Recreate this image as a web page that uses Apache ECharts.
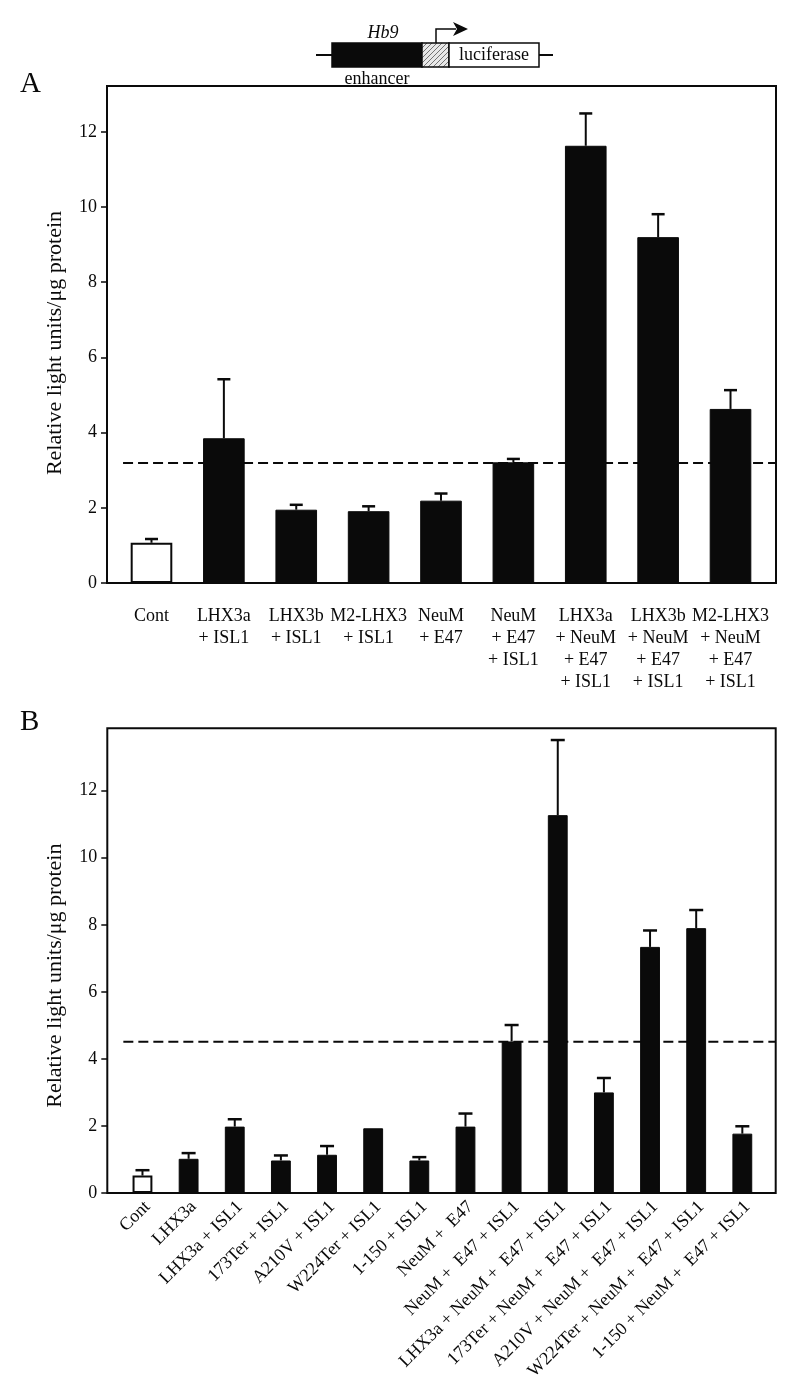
<!DOCTYPE html>
<html><head><meta charset="utf-8">
<script src="https://cdn.jsdelivr.net/npm/echarts@6/dist/echarts.min.js"></script>
<style>html,body{margin:0;padding:0;background:#fff}#c{width:800px;height:1388px}</style>
</head><body><div id="c"></div>
<script>
// ---------- DATA ----------
var catsA = ['Cont', 'LHX3a\n+ ISL1', 'LHX3b\n+ ISL1', 'M2-LHX3\n+ ISL1', 'NeuM\n+ E47',
  'NeuM\n+ E47\n+ ISL1', 'LHX3a\n+ NeuM\n+ E47\n+ ISL1', 'LHX3b\n+ NeuM\n+ E47\n+ ISL1', 'M2-LHX3\n+ NeuM\n+ E47\n+ ISL1'];
var meanA = [1.07, 3.85, 1.95, 1.91, 2.19, 3.21, 11.63, 9.20, 4.63];
var errTopA = [1.17, 5.42, 2.08, 2.04, 2.38, 3.30, 12.49, 9.81, 5.13];
var thresholdA = 3.19;
var yTicksA = [0, 2, 4, 6, 8, 10, 12];
var yMaxA = 13.22;

var catsB = ['Cont', 'LHX3a', 'LHX3a + ISL1', '173Ter + ISL1', 'A210V + ISL1', 'W224Ter + ISL1', '1-150 + ISL1',
  'NeuM +  E47', 'NeuM +  E47 + ISL1', 'LHX3a + NeuM +  E47 + ISL1', '173Ter + NeuM +  E47 + ISL1',
  'A210V + NeuM +  E47 + ISL1', 'W224Ter + NeuM +  E47 + ISL1', '1-150 + NeuM +  E47 + ISL1'];
var meanB = [0.52, 1.02, 1.98, 0.97, 1.14, 1.93, 0.97, 1.98, 4.52, 11.27, 3.00, 7.34, 7.90, 1.77];
var errTopB = [0.68, 1.19, 2.20, 1.12, 1.40, null, 1.07, 2.37, 5.01, 13.51, 3.43, 7.83, 8.44, 1.99];
var thresholdB = 4.51;
var yTicksB = [0, 2, 4, 6, 8, 10, 12];
var yMaxB = 13.86;

// ---------- STYLE / LAYOUT ----------
var FONT = 'Liberation Serif';
var INK = '#0a0a0a';
var DASH_START = 0.024;
var LABEL_SHIFT_B = 5;

var chart = echarts.init(document.getElementById('c'), null, {renderer: 'canvas'});

// hatch pattern for the promoter box
var pc = document.createElement('canvas');
pc.width = 5; pc.height = 5;
var pctx = pc.getContext('2d');
pctx.fillStyle = '#e8e8e8'; pctx.fillRect(0, 0, 5, 5);
pctx.strokeStyle = '#555'; pctx.lineWidth = 0.8;
pctx.beginPath(); pctx.moveTo(0, 5); pctx.lineTo(5, 0); pctx.stroke();
pctx.beginPath(); pctx.moveTo(-1, 1); pctx.lineTo(1, -1); pctx.stroke();
pctx.beginPath(); pctx.moveTo(4, 6); pctx.lineTo(6, 4); pctx.stroke();

function barData(vals) {
  return vals.map(function (v, i) {
    if (i === 0) return {value: v, itemStyle: {color: '#fff', borderColor: INK, borderWidth: 2}};
    return {value: v, itemStyle: {color: INK, borderColor: INK, borderWidth: 1}};
  });
}
function errData(means, tops) {
  var out = [];
  means.forEach(function (m, i) { if (tops[i] != null) out.push([i, m, tops[i]]); });
  return out;
}
function errRender(capHalf) {
  return function (params, api) {
    var b = api.coord([api.value(0), api.value(1)]);
    var t = api.coord([api.value(0), api.value(2)]);
    return {type: 'group', children: [
      {type: 'line', shape: {x1: b[0], y1: b[1], x2: t[0], y2: t[1]}, style: {stroke: INK, lineWidth: 2}},
      {type: 'line', shape: {x1: t[0] - capHalf, y1: t[1], x2: t[0] + capHalf, y2: t[1]}, style: {stroke: INK, lineWidth: 2.5}}
    ]};
  };
}
function frameY(maxV, ticks, gridIndex, namePad) {
  return {
    type: 'value', gridIndex: gridIndex, min: 0, max: maxV,
    name: 'Relative light units/μg protein', nameLocation: 'middle', nameGap: 41,
    nameTextStyle: {fontFamily: FONT, fontSize: 22, color: INK, padding: [0, namePad, 0, 0]},
    axisLine: {show: false},
    axisTick: {show: true, length: 6, inside: false, lineStyle: {color: INK, width: 1.5}, customValues: ticks},
    axisLabel: {fontFamily: FONT, fontSize: 18, color: INK, margin: 10, customValues: ticks},
    splitLine: {show: false}
  };
}
function hiddenY(maxV, gridIndex) {
  return {type: 'value', gridIndex: gridIndex, min: 0, max: maxV, show: false, splitLine: {show: false}};
}
function frameX(gridIndex) {
  return {type: 'value', gridIndex: gridIndex, min: 0, max: 1, show: false, splitLine: {show: false}};
}
var gb = {containLabel: false, outerBoundsMode: 'none'};
function g(o) { return Object.assign({}, gb, o); }

var option = {
  animation: false,
  backgroundColor: '#fff',
  grid: [
    g({left: 107, right: 24, top: 86, bottom: 805, show: true, borderColor: INK, borderWidth: 2, backgroundColor: 'transparent'}),
    g({left: 115.3, right: 33.3, top: 86, bottom: 805}),
    g({left: 107.3, right: 24.3, top: 728.3, bottom: 195, show: true, borderColor: INK, borderWidth: 2, backgroundColor: 'transparent'}),
    g({left: 119.4, right: 34.6, top: 728.3, bottom: 195}),
    g({left: 119.4 + LABEL_SHIFT_B, right: 34.6 - LABEL_SHIFT_B, top: 728.3, bottom: 195})
  ],
  xAxis: [
    frameX(0),
    {type: 'category', gridIndex: 1, data: catsA, boundaryGap: true,
      axisLine: {show: false}, axisTick: {show: false},
      axisLabel: {interval: 0, fontFamily: FONT, fontSize: 18, lineHeight: 22, color: INK, margin: 22, align: 'center'}},
    frameX(2),
    {type: 'category', gridIndex: 3, data: catsB, boundaryGap: true,
      axisLine: {show: false}, axisTick: {show: false}, axisLabel: {show: false}},
    {type: 'category', gridIndex: 4, data: catsB, boundaryGap: true,
      axisLine: {show: false}, axisTick: {show: false},
      axisLabel: {interval: 0, rotate: 45, fontFamily: FONT, fontSize: 18, color: INK, margin: 11}}
  ],
  yAxis: [
    frameY(yMaxA, yTicksA, 0, 17), hiddenY(yMaxA, 1),
    frameY(yMaxB, yTicksB, 2, 30), hiddenY(yMaxB, 3), hiddenY(yMaxB, 4)
  ],
  series: [
    {type: 'line', xAxisIndex: 0, yAxisIndex: 0, z: 1, symbol: 'none', silent: true,
      data: [[DASH_START, thresholdA], [1, thresholdA]],
      lineStyle: {color: INK, width: 2, type: [10, 5]}},
    {type: 'bar', xAxisIndex: 1, yAxisIndex: 1, z: 3, barWidth: '57.5%', data: barData(meanA)},
    {type: 'custom', xAxisIndex: 1, yAxisIndex: 1, z: 2, renderItem: errRender(6.5), data: errData(meanA, errTopA)},
    {type: 'line', xAxisIndex: 2, yAxisIndex: 2, z: 1, symbol: 'none', silent: true,
      data: [[DASH_START, thresholdB], [1, thresholdB]],
      lineStyle: {color: INK, width: 2, type: [10, 5]}},
    {type: 'bar', xAxisIndex: 3, yAxisIndex: 3, z: 3, barWidth: '43%', data: barData(meanB)},
    {type: 'custom', xAxisIndex: 3, yAxisIndex: 3, z: 2, renderItem: errRender(7), data: errData(meanB, errTopB)}
  ],
  graphic: [
    {type: 'text', left: 20, top: 70, style: {text: 'A', fontFamily: FONT, fontSize: 29, fill: INK}},
    {type: 'text', left: 20, top: 708, style: {text: 'B', fontFamily: FONT, fontSize: 29, fill: INK}},
    // construct diagram
    {type: 'line', shape: {x1: 316, y1: 55, x2: 332, y2: 55}, style: {stroke: INK, lineWidth: 2}},
    {type: 'line', shape: {x1: 539, y1: 55, x2: 553, y2: 55}, style: {stroke: INK, lineWidth: 2}},
    {type: 'rect', shape: {x: 332, y: 43, width: 90, height: 24}, style: {fill: INK, stroke: INK, lineWidth: 1.5}},
    {type: 'rect', shape: {x: 422, y: 43, width: 27, height: 24}, style: {fill: {image: pc, repeat: 'repeat'}, stroke: INK, lineWidth: 1.5}},
    {type: 'rect', shape: {x: 449, y: 43, width: 90, height: 24}, style: {fill: '#fff', stroke: INK, lineWidth: 1.5}},
    {type: 'polyline', shape: {points: [[436, 43], [436, 29], [456, 29]]}, style: {stroke: INK, lineWidth: 1.5, fill: null}},
    {type: 'polygon', shape: {points: [[453, 22], [468, 29], [453, 36], [457, 29]]}, style: {fill: INK}},
    {type: 'text', x: 383, y: 33, style: {text: 'Hb9', fontFamily: FONT, fontStyle: 'italic', fontSize: 18, fill: INK, align: 'center', verticalAlign: 'middle'}},
    {type: 'text', x: 377, y: 79, style: {text: 'enhancer', fontFamily: FONT, fontSize: 18, fill: INK, align: 'center', verticalAlign: 'middle'}},
    {type: 'text', x: 494, y: 55, style: {text: 'luciferase', fontFamily: FONT, fontSize: 18, fill: INK, align: 'center', verticalAlign: 'middle'}}
  ]
};
chart.setOption(option);
</script>
</body></html>
